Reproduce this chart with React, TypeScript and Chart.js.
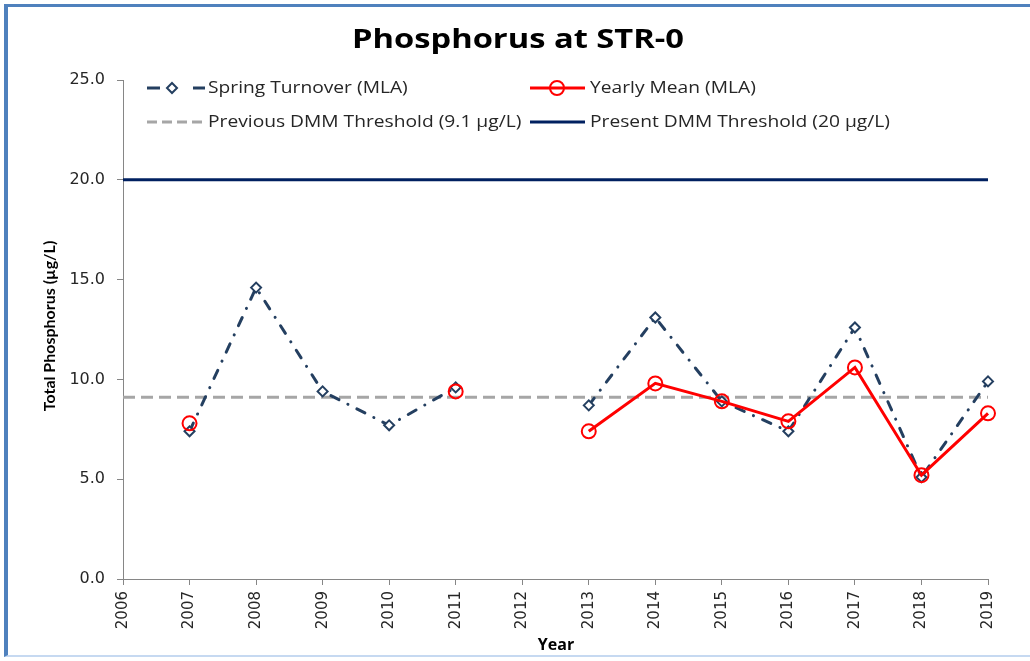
import React, { useEffect, useRef } from "react";
import { Chart, registerables } from "chart.js";

Chart.register(...registerables);

// ---------- data ----------
const years = [2007, 2008, 2009, 2010, 2011, 2012, 2013, 2014, 2015, 2016, 2017, 2018, 2019];
const springTurnover = [7.4, 14.6, 9.4, 7.7, 9.6, null, 8.7, 13.1, 8.9, 7.4, 12.6, 5.1, 9.9];
const yearlyMean = [7.8, null, null, null, 9.4, null, 7.4, 9.8, 8.9, 7.9, 10.6, 5.2, 8.3];
const thresholdYears = [2006, 2019];
const previousThreshold = [9.1, 9.1];
const presentThreshold = [20, 20];
const seriesLabels = [
  "Spring Turnover (MLA)",
  "Yearly Mean (MLA)",
  "Previous DMM Threshold (9.1 µg/L)",
  "Present DMM Threshold (20 µg/L)",
];
const chartTitle = "Phosphorus at STR-0";
const yTitle = "Total Phosphorus (µg/L)";
const xTitle = "Year";

const SPRING_COLOR = "#243f60";
const MEAN_COLOR = "#ff0000";
const PREV_COLOR = "#a6a6a6";
const PRESENT_COLOR = "#002060";
const AXIS_COLOR = "#868686";
const TEXT_COLOR = "#262626";

const toPoints = (xs: number[], ys: (number | null)[]) =>
  xs.map((x, i) => ({ x, y: ys[i] }));

// draw text stretched horizontally (the reference's text is slightly wide)
const wideText = (
  ctx: CanvasRenderingContext2D,
  text: string,
  x: number,
  y: number,
  sx: number
) => {
  ctx.save();
  ctx.translate(x, y);
  ctx.scale(sx, 1);
  ctx.fillText(text, 0, 0);
  ctx.restore();
};

const textPlugin = {
  id: "customText",
  afterDraw(chart: any) {
    const ctx: CanvasRenderingContext2D = chart.ctx;
    ctx.save();
    // title
    ctx.fillStyle = "#000";
    ctx.textAlign = "center";
    ctx.textBaseline = "alphabetic";
    ctx.font = "bold 27px 'Open Sans'";
    wideText(ctx, chartTitle, 518, 48, 1.21);
    // y title
    ctx.save();
    ctx.translate(50, 326);
    ctx.rotate(-Math.PI / 2);
    ctx.textBaseline = "middle";
    ctx.font = "bold 16px Lato";
    ctx.fillText(yTitle, 0, 0);
    ctx.restore();
    // x title
    ctx.textBaseline = "middle";
    ctx.font = "bold 16px 'Open Sans'";
    ctx.fillText(xTitle, 556, 645);

    // legend
    const row1 = 88;
    const row2 = 122;
    ctx.lineCap = "butt";
    // spring turnover sample
    ctx.strokeStyle = SPRING_COLOR;
    ctx.lineWidth = 3;
    ctx.setLineDash([]);
    ctx.beginPath();
    ctx.moveTo(147, row1);
    ctx.lineTo(160, row1);
    ctx.moveTo(193, row1);
    ctx.lineTo(205, row1);
    ctx.stroke();
    ctx.lineWidth = 2;
    ctx.fillStyle = "#fff";
    ctx.beginPath();
    ctx.moveTo(172, row1 - 5);
    ctx.lineTo(177, row1);
    ctx.lineTo(172, row1 + 5);
    ctx.lineTo(167, row1);
    ctx.closePath();
    ctx.fill();
    ctx.stroke();
    // yearly mean sample
    ctx.strokeStyle = MEAN_COLOR;
    ctx.lineWidth = 3;
    ctx.beginPath();
    ctx.moveTo(530, row1);
    ctx.lineTo(585, row1);
    ctx.stroke();
    ctx.lineWidth = 2;
    ctx.beginPath();
    ctx.arc(557, row1, 7, 0, Math.PI * 2);
    ctx.stroke();
    // previous threshold sample
    ctx.strokeStyle = PREV_COLOR;
    ctx.lineWidth = 3;
    ctx.setLineDash([10, 5]);
    ctx.beginPath();
    ctx.moveTo(147, row2);
    ctx.lineTo(205, row2);
    ctx.stroke();
    ctx.setLineDash([]);
    // present threshold sample
    ctx.strokeStyle = PRESENT_COLOR;
    ctx.lineWidth = 3;
    ctx.beginPath();
    ctx.moveTo(530, row2);
    ctx.lineTo(585, row2);
    ctx.stroke();

    ctx.fillStyle = "#262626";
    ctx.textAlign = "left";
    ctx.textBaseline = "middle";
    ctx.font = "17px 'Open Sans'";
    const sx = 1.13;
    wideText(ctx, seriesLabels[0], 208, row1, sx);
    wideText(ctx, seriesLabels[1], 590, row1, sx);
    wideText(ctx, seriesLabels[2], 208, row2, sx);
    wideText(ctx, seriesLabels[3], 590, row2, sx);
    ctx.restore();
  },
};

export default function App() {
  const canvasRef = useRef<HTMLCanvasElement | null>(null);

  useEffect(() => {
    if (!canvasRef.current) return;
    const chart = new Chart(canvasRef.current, {
      type: "line",
      data: {
        datasets: [
          {
            label: seriesLabels[0],
            data: toPoints(years, springTurnover),
            borderColor: SPRING_COLOR,
            borderWidth: 3,
            borderDash: [9, 10, 0.1, 10],
            borderCapStyle: "round",
            pointStyle: "rectRot",
            pointRadius: 5,
            pointBorderWidth: 2,
            pointBackgroundColor: "#ffffff",
            pointBorderColor: SPRING_COLOR,
            spanGaps: false,
            tension: 0,
            clip: false,
            order: 1,
          },
          {
            label: seriesLabels[1],
            data: toPoints(years, yearlyMean),
            borderColor: MEAN_COLOR,
            borderWidth: 3,
            pointStyle: "circle",
            pointRadius: 7,
            pointBorderWidth: 2,
            pointBackgroundColor: "rgba(0,0,0,0)",
            pointBorderColor: MEAN_COLOR,
            spanGaps: false,
            tension: 0,
            clip: false,
            order: 0,
          },
          {
            label: seriesLabels[2],
            data: toPoints(thresholdYears, previousThreshold),
            borderColor: PREV_COLOR,
            borderWidth: 3,
            borderDash: [12, 6],
            pointRadius: 0,
            tension: 0,
            order: 2,
          },
          {
            label: seriesLabels[3],
            data: toPoints(thresholdYears, presentThreshold),
            borderColor: PRESENT_COLOR,
            borderWidth: 3,
            pointRadius: 0,
            tension: 0,
            order: 3,
          },
        ],
      },
      options: {
        animation: false,
        responsive: false,
        maintainAspectRatio: false,
        layout: { padding: { left: 0, top: 80, right: 42, bottom: 0 } },
        plugins: {
          legend: { display: false },
          title: { display: false },
          tooltip: { enabled: false },
        },
        scales: {
          x: {
            type: "linear",
            min: 2006,
            max: 2019,
            offset: false,
            afterFit: (scale: any) => {
              scale.height = 82;
            },
            ticks: {
              stepSize: 1,
              autoSkip: false,
              minRotation: 90,
              maxRotation: 90,
              padding: 6,
              color: TEXT_COLOR,
              font: { family: "'DejaVu Sans'", size: 15 },
              callback: (v: any) => String(v),
            },
            grid: {
              drawOnChartArea: false,
              drawTicks: true,
              tickLength: 6,
              color: AXIS_COLOR,
            },
            border: { color: AXIS_COLOR, width: 1 },
          },
          y: {
            min: 0,
            max: 25,
            afterFit: (scale: any) => {
              scale.width = 123;
            },
            ticks: {
              stepSize: 5,
              padding: 12,
              color: TEXT_COLOR,
              font: { family: "'DejaVu Sans'", size: 16 },
              callback: (v: any) => Number(v).toFixed(1),
            },
            grid: {
              drawOnChartArea: false,
              drawTicks: true,
              tickLength: 6,
              color: AXIS_COLOR,
            },
            border: { color: AXIS_COLOR, width: 1 },
          },
        },
      },
      plugins: [textPlugin],
    });
    return () => chart.destroy();
  }, []);

  return (
    <div
      style={{
        position: "fixed",
        left: 0,
        top: 0,
        width: 1030,
        height: 661,
        background: "#ffffff",
        overflow: "hidden",
      }}
    >
      <div
        style={{
          position: "absolute",
          left: 4,
          top: 4,
          width: 1040,
          height: 653,
          borderLeft: "4px solid #4f81bd",
          borderTop: "3px solid #4f81bd",
          borderBottom: "2px solid #c6d9f1",
          boxSizing: "border-box",
        }}
      />
      <canvas
        ref={canvasRef}
        width={1030}
        height={661}
        style={{ position: "absolute", left: 0, top: 0, width: 1030, height: 661 }}
      />
    </div>
  );
}
